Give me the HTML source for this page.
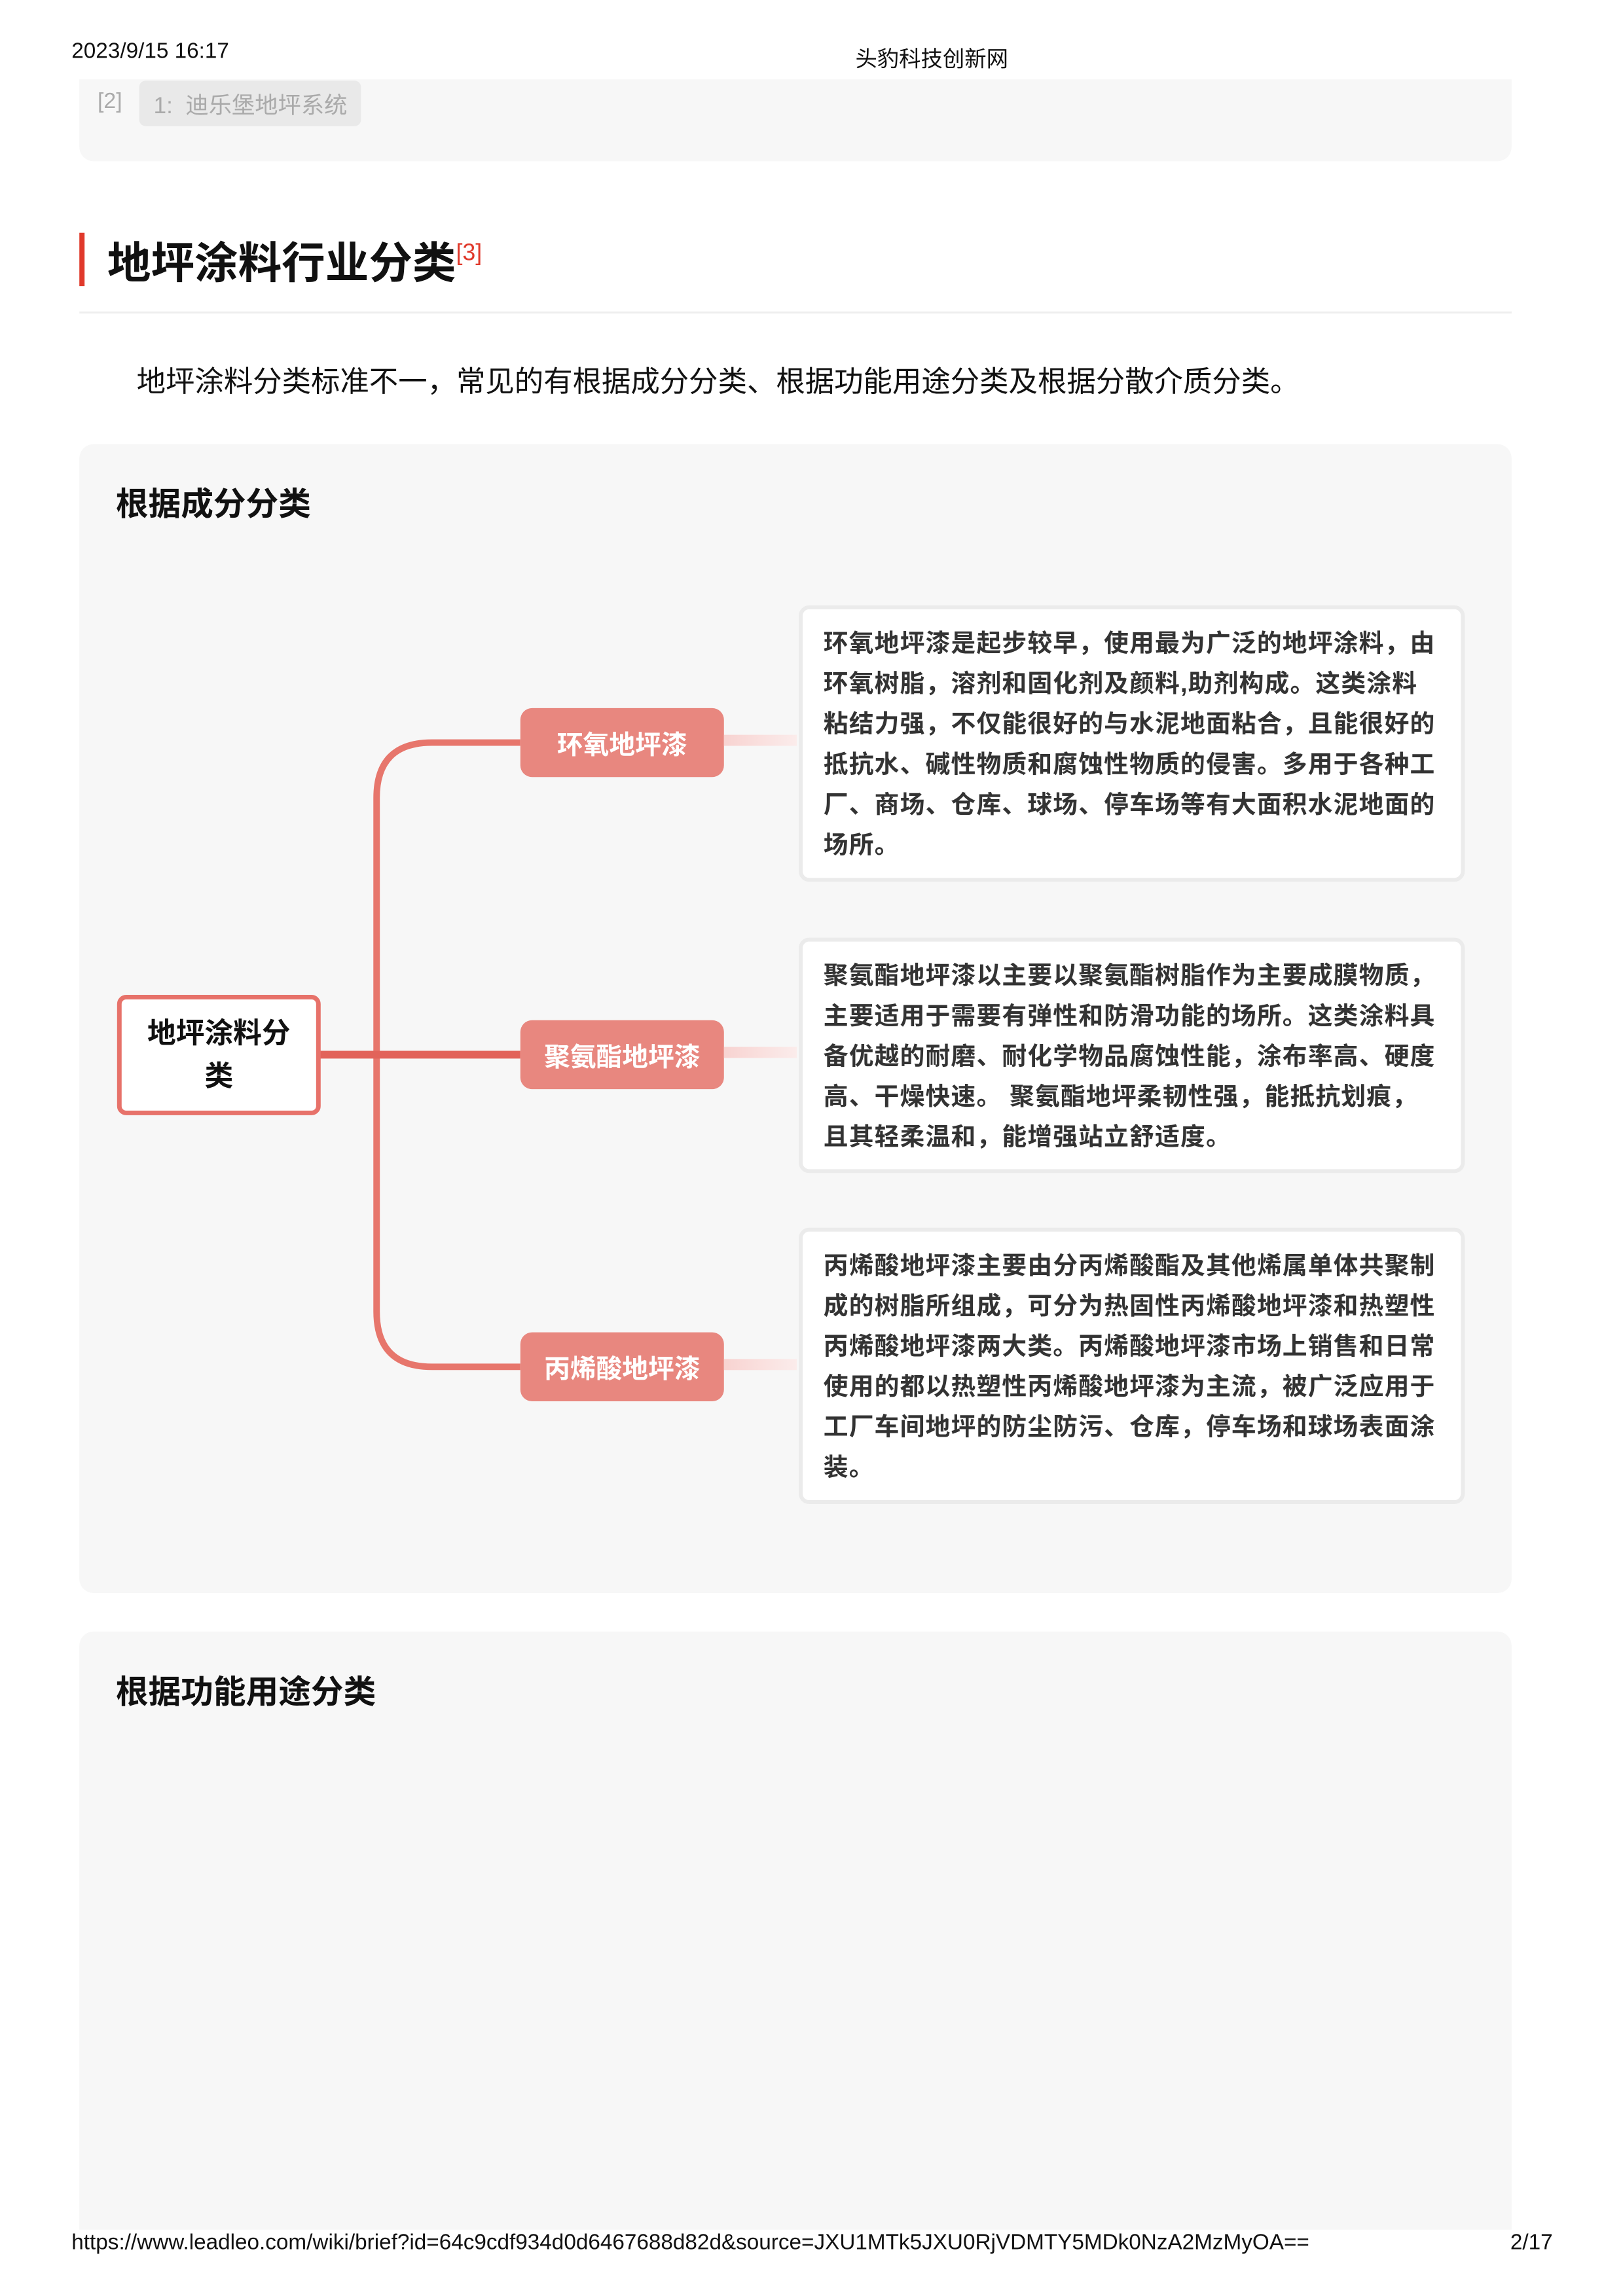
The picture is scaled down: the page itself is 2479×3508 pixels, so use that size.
<!DOCTYPE html>
<html><head><meta charset="utf-8">
<style>
*{margin:0;padding:0;box-sizing:border-box}
body{width:2479px;height:3508px;background:#fff;position:relative;overflow:hidden;font-family:"Liberation Sans","Noto Sans CJK SC",sans-serif;color:#111}
#w{position:absolute;left:0;top:0;width:2479px;height:3508px;transform:scale(0.9935);transform-origin:0 0}
.a{position:absolute;white-space:nowrap}
.desc{position:absolute;background:#fff;border:6px solid #ebebeb;border-radius:16px;padding:22px 0 0 32px;font-size:38px;letter-spacing:1.2px;font-weight:bold;color:#333;line-height:62px;white-space:nowrap}
.node{position:absolute;left:800px;width:313px;height:106px;background:#e8877f;border-radius:18px;color:#fff;font-size:40px;font-weight:bold;display:flex;align-items:center;justify-content:center}
.conn{position:absolute;left:1113px;width:112px;height:17px;background:linear-gradient(90deg,#f8d3d1,#fbeceb)}
</style></head><body><div id="w">
<div class="a" style="left:110px;top:60px;font-size:33.5px;color:#111">2023/9/15 16:17</div>
<div class="a" style="left:1315px;top:63px;font-size:33.6px;color:#111">头豹科技创新网</div>

<div class="a" style="left:122px;top:122px;width:2202px;height:126px;background:#f7f7f7;border-radius:0 0 22px 22px"></div>
<div class="a" style="left:150px;top:136px;font-size:34px;color:#aaa">[2]</div>
<div class="a" style="left:214px;top:124px;width:341px;height:70px;background:#e9e9e9;border-radius:10px;font-size:35.5px;color:#aaa;padding:10px 0 0 22px">1:&nbsp; 迪乐堡地坪系统</div>

<div class="a" style="left:122px;top:358px;width:8px;height:82px;background:#e0392b"></div>
<div class="a" style="left:165px;top:351px;font-size:67px;font-weight:bold;color:#111">地坪涂料行业分类<sup style="font-size:36px;color:#e0392b;font-weight:normal;vertical-align:28px">[3]</sup></div>
<div class="a" style="left:122px;top:479px;width:2202px;height:3px;background:#eee"></div>

<div class="a" style="left:210px;top:550px;font-size:44.7px;color:#111">地坪涂料分类标准不一，常见的有根据成分分类、根据功能用途分类及根据分散介质分类。</div>

<div class="a" style="left:122px;top:683px;width:2202px;height:1767px;background:#f7f7f7;border-radius:22px"></div>
<div class="a" style="left:178px;top:735px;font-size:50px;font-weight:bold;color:#111">根据成分分类</div>

<svg class="a" style="left:0;top:0" width="2479" height="3508">
<path d="M800,1142 H664 Q579,1142 579,1227 V2017 Q579,2102 664,2102 H800" fill="none" stroke="#e7766c" stroke-width="10"/>
<path d="M491,1622 H800" fill="none" stroke="#e2635a" stroke-width="12"/>
</svg>

<div class="a" style="left:180px;top:1530px;width:313px;height:185px;border:7px solid #e7726a;border-radius:14px;background:#fff;font-size:44px;font-weight:bold;text-align:center;line-height:66px;padding-top:20px;white-space:normal">地坪涂料分<br>类</div>

<div class="node" style="top:1089px">环氧地坪漆</div>
<div class="node" style="top:1569px">聚氨酯地坪漆</div>
<div class="node" style="top:2049px">丙烯酸地坪漆</div>
<div class="conn" style="top:1130px"></div>
<div class="conn" style="top:1610px"></div>
<div class="conn" style="top:2090px"></div>

<div class="desc" style="left:1228px;top:931px;width:1024px;height:425px">环氧地坪漆是起步较早，使用最为广泛的地坪涂料，由<br>环氧树脂，溶剂和固化剂及颜料,助剂构成。这类涂料<br>粘结力强，不仅能很好的与水泥地面粘合，且能很好的<br>抵抗水、碱性物质和腐蚀性物质的侵害。多用于各种工<br>厂、商场、仓库、球场、停车场等有大面积水泥地面的<br>场所。</div>
<div class="desc" style="left:1228px;top:1442px;width:1024px;height:362px">聚氨酯地坪漆以主要以聚氨酯树脂作为主要成膜物质，<br>主要适用于需要有弹性和防滑功能的场所。这类涂料具<br>备优越的耐磨、耐化学物品腐蚀性能，涂布率高、硬度<br>高、干燥快速。 聚氨酯地坪柔韧性强，能抵抗划痕，<br>且其轻柔温和，能增强站立舒适度。</div>
<div class="desc" style="left:1228px;top:1888px;width:1024px;height:425px">丙烯酸地坪漆主要由分丙烯酸酯及其他烯属单体共聚制<br>成的树脂所组成，可分为热固性丙烯酸地坪漆和热塑性<br>丙烯酸地坪漆两大类。丙烯酸地坪漆市场上销售和日常<br>使用的都以热塑性丙烯酸地坪漆为主流，被广泛应用于<br>工厂车间地坪的防尘防污、仓库，停车场和球场表面涂<br>装。</div>

<div class="a" style="left:122px;top:2509px;width:2202px;height:920px;background:#f7f7f7;border-radius:22px 22px 0 0"></div>
<div class="a" style="left:178px;top:2562px;font-size:50px;font-weight:bold;color:#111">根据功能用途分类</div>

<div class="a" style="left:110px;top:3430px;font-size:33.5px;color:#111">https://www.leadleo.com/wiki/brief?id=64c9cdf934d0d6467688d82d&amp;source=JXU1MTk5JXU0RjVDMTY5MDk0NzA2MzMyOA==</div>
<div class="a" style="left:2322px;top:3430px;font-size:33.5px;color:#111">2/17</div>
</div></body></html>
